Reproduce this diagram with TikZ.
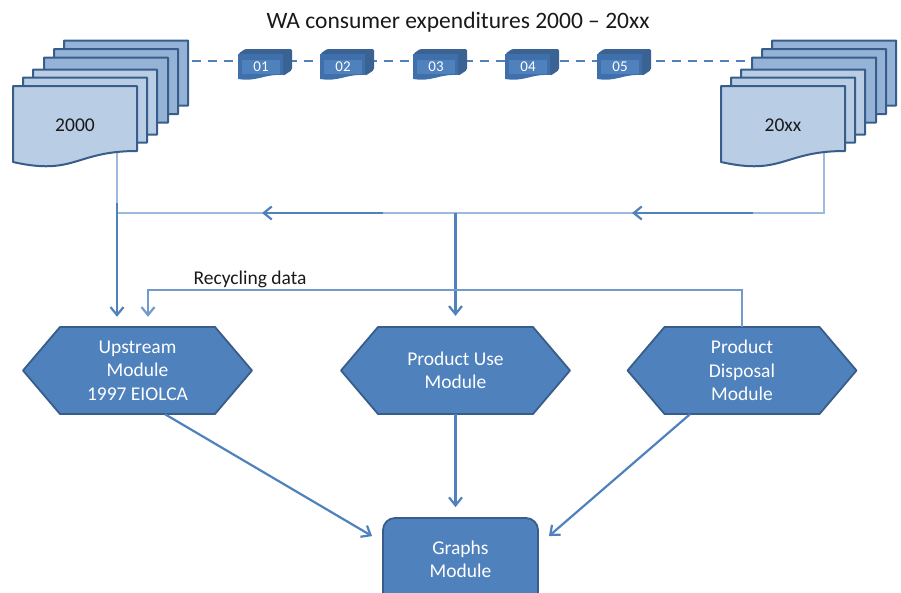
\documentclass[tikz,border=0pt]{standalone}
\usepackage{fontspec}
\setmainfont{Carlito}
\usetikzlibrary{arrows.meta,calc}
\definecolor{docl}{HTML}{B9CDE5}
\definecolor{docm}{HTML}{95B3D7}
\definecolor{dkb}{HTML}{385D8A}
\definecolor{mb}{HTML}{4F81BD}
\definecolor{thinb}{HTML}{9DB9DD}
\definecolor{boxside}{HTML}{3A6293}
\definecolor{boxface}{HTML}{3F70AC}
\begin{document}
\begin{tikzpicture}[x=1pt,y=-1pt,
  docshape/.style={draw=dkb,line width=2pt,line join=round},
  hexline/.style={draw=dkb,fill=mb,line width=1.8pt,line join=round},
  hexbox/.style={minimum width=229pt,minimum height=87pt,inner sep=0pt,text=white,align=center,font=\fontsize{19.5}{23.5}\selectfont},
  thinline/.style={draw=thinb,line width=1.5pt},
  arr/.style={draw=mb,line width=2.2pt,-{Straight Barb[length=8pt,width=13pt]}},
  recyc/.style={draw=mb!80!white,line width=1.5pt,-{Straight Barb[length=8pt,width=13pt,line width=2.2pt]}},
  dashline/.style={draw=mb,line width=1.6pt,dash pattern=on 9pt off 7pt},
  lbl/.style={font=\fontsize{19.5}{23.5}\selectfont,text=black!90},
  smalltxt/.style={font=\fontsize{15}{17}\selectfont,text=white,inner sep=0pt}
]
\useasboundingbox (0,0) rectangle (901,592);

% title
\node[font=\fontsize{23.5}{28}\selectfont,text=black!90] (title) at (458,22) {WA consumer expenditures 2000 – 20xx};

% dashed timeline (behind)
\coordinate (dA) at (192,61);
\coordinate (dB) at (760,61);
\draw[dashline] (dA) -- (dB);

% connectors from the document stacks
\coordinate (Lb) at (117,150);
\coordinate (Rb) at (824,150);
\coordinate (Rc) at (824,213);
\coordinate (Lc) at (117,213);
\draw[thinline] (Rb) -- (Rc) -- (Lc);
\draw[thinline] (Lb) -- (117,205);

% document stacks
\foreach \dx/\dy/\c in {51/-45.5/docm,41/-37/docm,31/-28.5/docm,20/-16.5/docl,10/-8.5/docl,0/0/docl}{
  \begin{scope}[shift={({13+\dx},{86+\dy})}]
    \draw[docshape,fill=\c] (0,0) -- (124,0) -- (124,65) .. controls (62,65) and (62,90) .. (0,76) -- cycle;
  \end{scope}
  \begin{scope}[shift={({721+\dx},{86+\dy})}]
    \draw[docshape,fill=\c] (0,0) -- (124,0) -- (124,65) .. controls (62,65) and (62,90) .. (0,76) -- cycle;
  \end{scope}
}
\node[lbl] (d2000) at (75,125) {2000};
\node[lbl] (dxx) at (783,125) {20xx};

% small 3D boxes
\foreach \bx/\t in {238/01,320/02,413/03,505/04,597/05}{
  \begin{scope}[shift={(\bx,0)}]
    \fill[boxside,rounded corners=1.5pt] (0,54) -- (7,49) -- (54,49) -- (54,70) -- (45,76) -- (45,54) -- cycle;
    \fill[boxface] (0,54) -- (45,54) -- (45,75) .. controls (25,74) and (20,82) .. (0,79) -- cycle;
    \fill[mb] (4,60) rectangle (42,74);
    \node[smalltxt] (box\t) at (23,67) {\t};
  \end{scope}
}

% hexagon modules
\foreach \cx in {137.5,455.5,742}{
  \begin{scope}[shift={(\cx,370.5)}]
    \draw[hexline] (-114.5,0) -- (-77.5,-43.5) -- (77.5,-43.5) -- (114.5,0) -- (77.5,43.5) -- (-77.5,43.5) -- cycle;
  \end{scope}
}
\node[hexbox] (up) at (137.5,370.5) {Upstream\\Module\\1997 EIOLCA};
\node[hexbox] (use) at (455.5,370.5) {Product Use\\Module};
\node[hexbox] (disp) at (742,370.5) {Product\\Disposal\\Module};

% graphs module (runs off the bottom edge)
\node[draw=dkb,fill=mb,line width=1.8pt,rounded corners=12pt,minimum width=155pt,minimum height=100pt,inner sep=0pt] (gr) at (460.5,568) {};
\node[text=white,align=center,font=\fontsize{19.5}{23}\selectfont] (grt) at (460.5,559) {Graphs\\Module};

% arrows
\draw[arr] (117,203) -- ($(up.north)+(-20.5,-10)$);
\draw[arr] (455.5,213) -- ($(use.north)+(0,-11)$);
\draw[arr] (753,213) -- (632,213);
\draw[arr] (383,213) -- (262,213);

% recycling data loop
\draw[recyc] (disp.north) -- (742,290) -- (148,290) -- ($(up.north)+(10.5,-10)$);
\node[lbl] (rec) at (250,279) {Recycling data};

% to graphs
\draw[arr] ($(up.south)+(27.5,0)$) -- ($(gr.north west)+(-10,19)$);
\draw[arr] (use.south) -- ($(use.south |- gr.north)+(0,-10)$);
\draw[arr] ($(disp.south)+(-52,0)$) -- ($(gr.north east)+(10,19)$);
\end{tikzpicture}
\end{document}
